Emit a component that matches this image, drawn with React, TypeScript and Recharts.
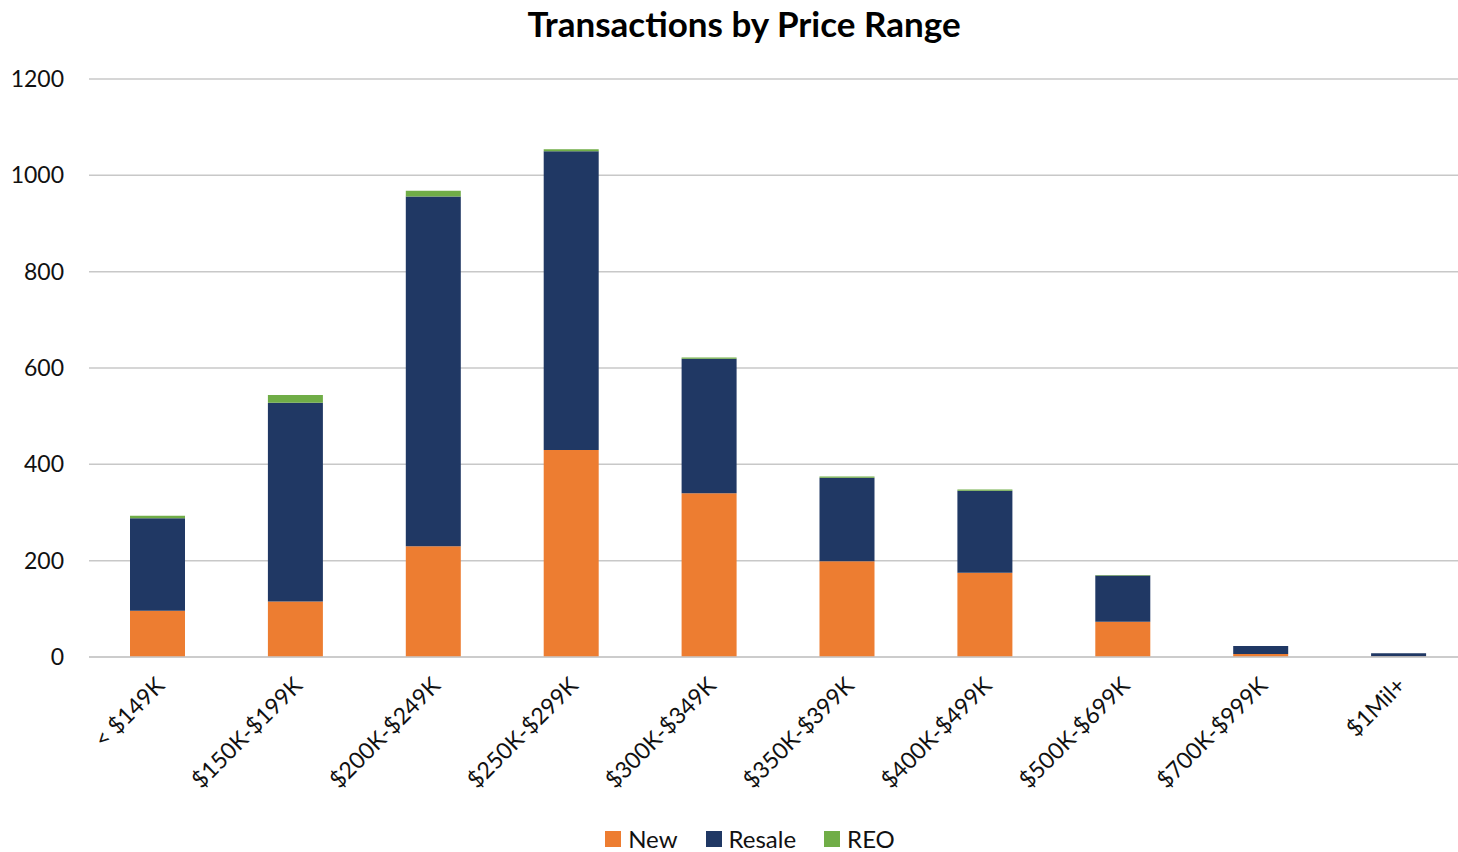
import { BarChart, Bar, XAxis, YAxis, CartesianGrid } from 'recharts';

const categories = [
  '< $149K',
  '$150K-$199K',
  '$200K-$249K',
  '$250K-$299K',
  '$300K-$349K',
  '$350K-$399K',
  '$400K-$499K',
  '$500K-$699K',
  '$700K-$999K',
  '$1Mil+',
];
const newSales = [96, 115, 230, 430, 340, 199, 175, 73, 6, 1];
const resaleSales = [192, 413, 726, 620, 279, 173, 170, 96, 17, 7];
const reoSales = [5, 16, 12, 4, 3, 3, 3, 1, 0, 0];
const yTicks = [0, 200, 400, 600, 800, 1000, 1200];

const series = [
  { key: 'New', color: '#ED7D31' },
  { key: 'Resale', color: '#203864' },
  { key: 'REO', color: '#70AD47' },
];

const data = categories.map((name, i) => ({
  name,
  New: newSales[i],
  Resale: resaleSales[i],
  REO: reoSales[i],
}));

const FONT = 'Lato, "Open Sans", sans-serif';

// rotated category label, anchored at its right end just under the bar
function SlantTick(props: any) {
  const { x, y, payload } = props;
  const tx = x + 8;
  const ty = y + 22;
  return (
    <text
      x={tx}
      y={ty}
      transform={`rotate(-45, ${tx}, ${ty})`}
      textAnchor="end"
      fontSize={23}
      fontFamily={FONT}
      fill="#111"
    >
      {payload.value}
    </text>
  );
}

export default function App() {
  return (
    <div style={{ position: 'absolute', left: 0, top: 0, width: 1458, height: 852, overflow: 'hidden', background: '#fff' }}>
      <div
        style={{
          position: 'absolute',
          left: 0,
          width: 1488,
          top: 2,
          textAlign: 'center',
          fontFamily: FONT,
          fontWeight: 700,
          fontSize: 35,
          color: '#000',
        }}
      >
        Transactions by Price Range
      </div>
      <BarChart
        width={1468}
        height={852}
        data={data}
        margin={{ top: 79, right: 0, left: 0, bottom: 0 }}
      >
        <CartesianGrid vertical={false} stroke="#c8c8c8" strokeWidth={1.5} />
        <XAxis
          dataKey="name"
          interval={0}
          height={195}
          tick={<SlantTick />}
          tickLine={false}
          axisLine={{ stroke: '#c8c8c8', strokeWidth: 1.5 }}
        />
        <YAxis
          width={89}
          domain={[0, 1200]}
          ticks={yTicks}
          tickSize={0}
          tickMargin={25}
          axisLine={false}
          tickLine={false}
          tick={{ fontSize: 23, fontFamily: FONT, fill: '#111' }}
        />
        {series.map((s) => (
          <Bar key={s.key} dataKey={s.key} stackId="a" fill={s.color} barSize={55} isAnimationActive={false} />
        ))}
      </BarChart>
      <div
        style={{
          position: 'absolute',
          top: 828,
          left: 0,
          width: 1458,
          display: 'flex',
          justifyContent: 'center',
          paddingLeft: 42,
          boxSizing: 'border-box',
          fontFamily: FONT,
          fontSize: 24,
          lineHeight: '22px',
          color: '#111',
        }}
      >
        {series.map((s) => (
          <span key={s.key} style={{ display: 'flex', alignItems: 'center', margin: '0 14px' }}>
            <span style={{ width: 16, height: 16, background: s.color, marginRight: 7, display: 'inline-block' }} />
            {s.key}
          </span>
        ))}
      </div>
    </div>
  );
}
